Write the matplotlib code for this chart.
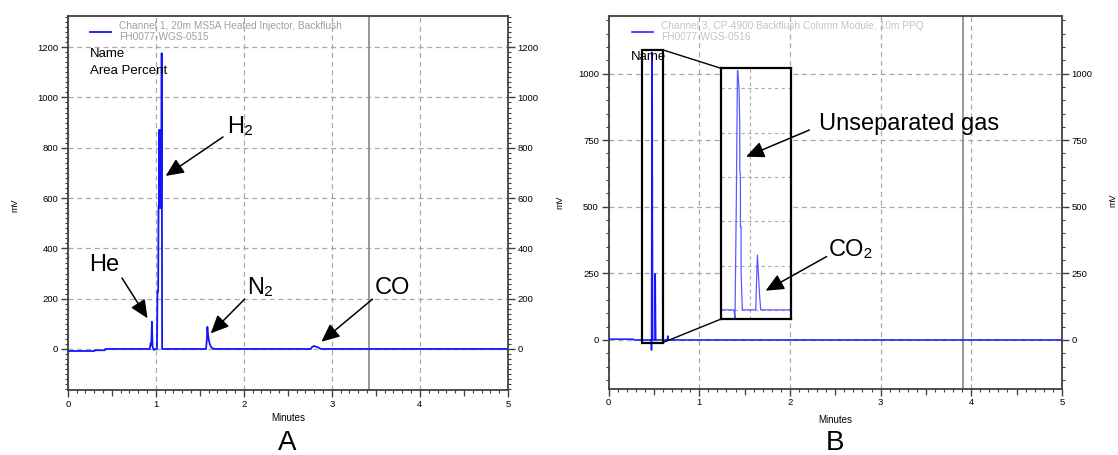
import matplotlib
matplotlib.use('Agg')
import matplotlib.pyplot as plt
from matplotlib.ticker import MultipleLocator, FixedLocator
from matplotlib.patches import Rectangle

plt.rcParams['font.family'] = ['Liberation Sans', 'DejaVu Sans']

# ---------------- data ----------------
# Panel A: Channel 1 chromatogram (minutes, mV)
a_time = [0.00, 0.30, 0.305, 0.42, 0.425, 0.930, 0.940, 0.948, 0.955, 0.962, 0.975, 0.990,
          1.012, 1.018, 1.026, 1.030, 1.036, 1.040, 1.044, 1.048, 1.052, 1.056, 1.060, 1.064,
          1.066, 1.071, 1.100, 1.570, 1.580, 1.585, 1.592, 1.600, 1.612, 1.630, 1.660,
          2.760, 2.775, 2.797, 2.820, 2.845, 2.875, 5.00]
a_signal = [-8, -8, -5, -5, 0, 0, 22, 15, 108, 10, -4, 0,
            0, 228, 228, 566, 566, 871, 560, 871, 560, 871, 560, 871,
            1176, 0, 0, 0, 40, 88, 60, 40, 20, 6, 0,
            0, 8, 12, 9, 6, 0, 0]

# Panel B: Channel 3 chromatogram (minutes, mV)
b_time = [0.00, 0.27, 0.275, 0.466, 0.471, 0.473, 0.4755, 0.4775, 0.4781, 0.4804, 0.4817, 0.4818,
          0.4829, 0.4830, 0.4841, 0.4842, 0.4854, 0.4866, 0.508, 0.511, 0.5123, 0.514, 0.5158,
          0.5177, 0.5201, 0.640, 0.648, 0.652, 0.656, 5.00]
b_signal = [3, 3, 0, 0, 0, -38, 500, 1080, 1080, 1000, 828, 632,
            602, 376, 376, 165, 75, 0, 0, 0, 120, 248, 167,
            75, 0, 0, 0, 15, 0, 0]

x_ticks = [0, 1, 2, 3, 4, 5]
x_half_ticks = [0.5, 1.5, 2.5, 3.5, 4.5]
a_yticks = [0, 200, 400, 600, 800, 1000, 1200]
b_yticks = [0, 250, 500, 750, 1000]
a_cursor = 3.42
b_cursor = 3.907

a_legend = 'Channel 1, 20m MS5A Heated Injector, Backflush\nFH0077-WGS-0515'
b_legend = 'Channel 3, CP-4900 Backflush Column Module, 10m PPQ\nFH0077-WGS-0516'

# ---------------- figure ----------------
fig = plt.figure(figsize=(11.18, 4.55), dpi=100)
axA = fig.add_axes([0.0607, 0.1429, 0.3936, 0.822])
axB = fig.add_axes([0.5444, 0.1457, 0.4054, 0.8191])

TRACE = '#1414ff'
GRID = '#a8a8a8'
SPINE = '#404040'


def style(ax, ylim, yticks, yminor):
    ax.set_xlim(0, 5)
    ax.set_ylim(*ylim)
    ax.xaxis.set_major_locator(FixedLocator(x_ticks))
    ax.xaxis.set_minor_locator(MultipleLocator(0.1))
    ax.yaxis.set_major_locator(FixedLocator(yticks))
    ax.yaxis.set_minor_locator(MultipleLocator(yminor))
    ax.tick_params(which='both', direction='out', color=SPINE, left=True, right=True,
                   labelright=True, top=False, bottom=True)
    ax.tick_params(which='major', length=5, width=1, labelsize=6.8, pad=2)
    ax.tick_params(which='minor', length=2.5, width=0.8)
    for s in ax.spines.values():
        s.set_color(SPINE)
        s.set_linewidth(1.3)
    ax.grid(True, which='major', color=GRID, linestyle=(0, (4, 3)), linewidth=0.9)
    sec = ax.secondary_xaxis('bottom')
    sec.set_xticks(x_half_ticks)
    sec.tick_params(length=4, width=0.9, color=SPINE, labelbottom=False)
    sec.spines['bottom'].set_visible(False)


style(axA, (-163, 1324), a_yticks, 20)
style(axB, (-183, 1216), b_yticks, 50)

# ---- Panel A ----
axA.axvline(a_cursor, color='#909090', lw=1.3, zorder=2)
lineA, = axA.plot(a_time, a_signal, color=TRACE, lw=1.3, zorder=3)
axA.legend([lineA], [a_legend], loc='upper left', bbox_to_anchor=(0.05, 0.987),
           frameon=False, fontsize=7.3, labelcolor='#a0a0a0', handlelength=2.1,
           handletextpad=0.8, borderpad=0, borderaxespad=0)
axA.text(0.05, 0.899, 'Name', transform=axA.transAxes, va='center', ha='left', fontsize=9.5)
axA.text(0.05, 0.853, 'Area Percent', transform=axA.transAxes, va='center', ha='left', fontsize=9.5)

arrow_kw = dict(arrowstyle='-|>,head_length=0.55,head_width=0.25', color='black', lw=1.1,
                mutation_scale=20, shrinkA=0, shrinkB=0)
a_notes = [('He', (0.41, 334), (0.615, 282), (0.905, 122)),
           ('H\u2082', (1.955, 883), (1.763, 843), (1.111, 688)),
           ('N\u2082', (2.19, 243), (2.008, 198), (1.623, 62)),
           ('CO', (3.693, 243), (3.461, 198), (2.881, 29))]
for label, txt, tail, head in a_notes:
    axA.annotate('', xy=head, xytext=tail, arrowprops=arrow_kw, zorder=6)
    axA.text(txt[0], txt[1], label, ha='center', va='center', fontsize=17, zorder=6)

# ---- Panel B ----
axB.axvline(b_cursor, color='#909090', lw=1.3, zorder=2)
lineB, = axB.plot(b_time, b_signal, color=TRACE, lw=1.1, zorder=3)
axB.legend([lineB], [b_legend], loc='upper left', bbox_to_anchor=(0.0505, 0.987),
           frameon=False, fontsize=7.3, labelcolor='#c4c4c4', handlelength=2.1,
           handletextpad=0.8, borderpad=0, borderaxespad=0)
axB.text(0.049, 0.889, 'Name', transform=axB.transAxes, va='center', ha='left', fontsize=9.5)

# zoom box and inset
axB.add_patch(Rectangle((0.365, -10), 0.232, 1099, fill=False, ec='black', lw=1.6, zorder=5))
axB.plot([0.597, 1.237], [1089, 1020], color='black', lw=1.0, zorder=5)
axB.plot([0.597, 1.237], [-10, 78], color='black', lw=1.0, zorder=5)

axIn = axB.inset_axes([1.237, 78, 0.772, 942], transform=axB.transData, zorder=4)
axIn.plot(b_time, b_signal, color='#5a5aff', lw=0.9)
axIn.set_xlim(0.447, 0.575)
axIn.set_ylim(-42, 1091)
axIn.set_xticks([0.5])
axIn.set_yticks([0, 200, 400, 600, 800, 1000])
axIn.tick_params(length=0, labelleft=False, labelbottom=False)
axIn.grid(True, color=GRID, linestyle=(0, (3, 3)), linewidth=0.8)
for s in axIn.spines.values():
    s.set_color('black')
    s.set_linewidth(1.6)

b_notes = [('Unseparated gas', (3.313, 811), (2.214, 788), (1.516, 688)),
           ('CO\u2082', (2.674, 338), (2.404, 313), (1.732, 185))]
for label, txt, tail, head in b_notes:
    axB.annotate('', xy=head, xytext=tail, arrowprops=arrow_kw, zorder=6)
    axB.text(txt[0], txt[1], label, ha='center', va='center', fontsize=17, zorder=6)

# ---- figure-level text ----
fig.text(0.2575, 0.0813, 'Minutes', ha='center', va='center', fontsize=7)
fig.text(0.747, 0.0769, 'Minutes', ha='center', va='center', fontsize=7)
fig.text(0.257, 0.0264, 'A', ha='center', va='center', fontsize=20)
fig.text(0.747, 0.0264, 'B', ha='center', va='center', fontsize=20)
for xpx, ypx in [(15, 205), (560, 202), (1113, 200)]:
    fig.text(xpx / 1118, 1 - ypx / 455, 'mV', rotation=90, ha='center', va='center', fontsize=6.5)

fig.savefig('out.png', dpi=100)
